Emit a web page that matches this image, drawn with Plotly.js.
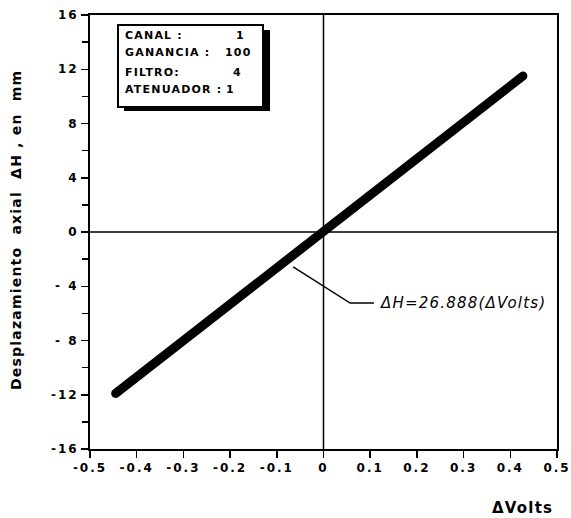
<!DOCTYPE html>
<html>
<head>
<meta charset="utf-8">
<script src="https://cdn.plot.ly/plotly-3.0.1.min.js"></script>
<style>
  html, body { margin: 0; padding: 0; background: #fff; }
  #chart { width: 571px; height: 518px; }
  .xtick text, .ytick text { letter-spacing: 2px; }
  .annotation-text { letter-spacing: 1.2px; }
  .scatterlayer .js-line { stroke-linecap: round; }
</style>
</head>
<body>
<div id="chart"></div>
<script>
// ---- data ----
const deltaVolts = [-0.445, -0.3, -0.2, -0.1, 0, 0.1, 0.2, 0.3, 0.427];
const deltaH     = [-11.9, -8.0, -5.4, -2.7, 0, 2.7, 5.4, 8.1, 11.5];

const xTickVals = [-0.5, -0.4, -0.3, -0.2, -0.1, 0, 0.1, 0.2, 0.3, 0.4, 0.5];
const xTickText = ['-0.5', '-0.4', '-0.3', '-0.2', '-0.1', '0', '0.1', '0.2', '0.3', '0.4', '0.5'];
const yTickVals = [-16, -12, -8, -4, 0, 4, 8, 12, 16];
const yTickText = ['-16', '-12', '- 8', '- 4', '0', '4', '8', '12', '16'];

const infoLabels = ['CANAL :', 'GANANCIA :', 'FILTRO:', 'ATENUADOR :'];
const infoValues = ['1', '100', '4', '1'];

const equationText = 'ΔH=26.888(ΔVolts)';
const xTitle = 'ΔVolts';
const yTitle = 'Desplazamiento  axial  ΔH , en  mm';

// ---- chart ----
const tickFont = { family: 'DejaVu Sans', size: 12, color: '#000', weight: 'bold' };

const trace = {
  x: deltaVolts,
  y: deltaH,
  type: 'scatter',
  mode: 'lines',
  line: { color: '#000', width: 9 },
  hoverinfo: 'skip',
  showlegend: false
};

// pixel helpers for the info box (paper coordinates)
const L = 90, R = 557, T = 15, B = 449;
const px = v => (v - L) / (R - L);
const py = v => (B - v) / (B - T);

const annotations = [];
const rowY = [35, 53, 72, 90];
const valX = [240, 238, 237, 230];
infoLabels.forEach((lab, i) => {
  annotations.push({
    xref: 'paper', yref: 'paper', x: px(123), y: py(rowY[i]),
    xanchor: 'left', yanchor: 'middle', showarrow: false,
    text: lab, font: { family: 'DejaVu Sans', size: 11, color: '#000', weight: 'bold' }
  });
  annotations.push({
    xref: 'paper', yref: 'paper', x: px(valX[i]), y: py(rowY[i]),
    xanchor: 'center', yanchor: 'middle', showarrow: false,
    text: infoValues[i], font: { family: 'DejaVu Sans', size: 11, color: '#000', weight: 'bold' }
  });
});

annotations.push({
  xref: 'x', yref: 'y', x: 0.116, y: -5.24,
  xanchor: 'left', yanchor: 'middle', showarrow: false,
  text: equationText,
  font: { family: 'DejaVu Sans', size: 15, color: '#000', style: 'italic' }
});
annotations.push({
  xref: 'paper', yref: 'paper', x: px(16), y: py(230),
  xanchor: 'center', yanchor: 'middle', showarrow: false, textangle: -90,
  text: yTitle,
  font: { family: 'DejaVu Sans', size: 14, color: '#000', weight: 'bold' }
});
annotations.push({
  xref: 'paper', yref: 'paper', x: px(522), y: py(508),
  xanchor: 'center', yanchor: 'middle', showarrow: false,
  text: xTitle,
  font: { family: 'DejaVu Sans', size: 15, color: '#000', weight: 'bold' }
});

const shapes = [
  // zero lines
  { type: 'line', xref: 'x', yref: 'paper', x0: 0, x1: 0, y0: 0, y1: 1, line: { color: '#000', width: 1.5 }, layer: 'below' },
  { type: 'line', xref: 'paper', yref: 'y', x0: 0, x1: 1, y0: 0, y1: 0, line: { color: '#000', width: 1.5 }, layer: 'below' },
  // info box shadow + box
  { type: 'rect', xref: 'paper', yref: 'paper', x0: px(124), x1: px(270), y0: py(111), y1: py(30),
    fillcolor: '#000', line: { width: 0 }, layer: 'above' },
  { type: 'rect', xref: 'paper', yref: 'paper', x0: px(118), x1: px(263), y0: py(107), y1: py(25),
    fillcolor: '#fff', line: { color: '#000', width: 2 }, layer: 'above' },
  // leader line of the equation
  { type: 'path', xref: 'x', yref: 'y', path: 'M -0.065,-2.58 L 0.057,-5.24 L 0.108,-5.24',
    line: { color: '#000', width: 1.5 }, layer: 'above' }
];

const layout = {
  width: 571, height: 518,
  margin: { l: 90, r: 14, t: 15, b: 69 },
  paper_bgcolor: '#fff', plot_bgcolor: '#fff',
  showlegend: false,
  xaxis: {
    range: [-0.5, 0.5], tickvals: xTickVals, ticktext: xTickText,
    ticks: 'outside', ticklen: 7, tickwidth: 1.5, tickcolor: '#000',
    showline: true, linecolor: '#000', linewidth: 2, mirror: true,
    showgrid: false, zeroline: false, tickfont: tickFont, fixedrange: true
  },
  yaxis: {
    range: [-16, 16], tickvals: yTickVals, ticktext: yTickText,
    ticks: 'outside', ticklen: 7, tickwidth: 1.5, tickcolor: '#000',
    minor: { dtick: 2, tick0: 0, ticks: 'outside', ticklen: 6, tickwidth: 1.5, tickcolor: '#000', showgrid: false },
    showline: true, linecolor: '#000', linewidth: 2, mirror: true,
    showgrid: false, zeroline: false, tickfont: tickFont, fixedrange: true
  },
  shapes: shapes,
  annotations: annotations
};

Plotly.newPlot('chart', [trace], layout, { displayModeBar: false, staticPlot: true });
</script>
</body>
</html>
